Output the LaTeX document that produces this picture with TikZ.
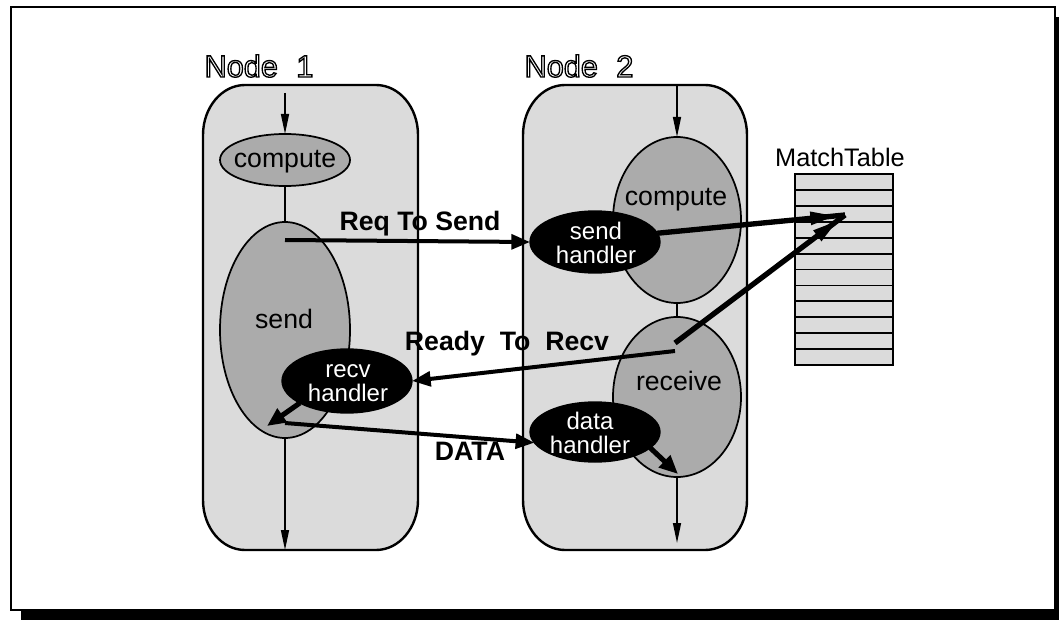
\documentclass[tikz,border=0pt]{standalone}
\usepackage{fontspec}
\setmainfont{Liberation Sans}
\usetikzlibrary{arrows.meta,shapes.geometric,decorations.markings}
\definecolor{boxgray}{gray}{0.86}
\definecolor{phasegray}{gray}{0.67}
% hollow (stroked only) lettering for the node titles
\newcommand{\hollowtext}[1]{\special{pdf:literal direct 1 Tr 1.0 w 0 0 0 RG}#1\special{pdf:literal direct 0 Tr}}
\begin{document}
\begin{tikzpicture}[x=0.75pt,y=-0.75pt,
  every node/.style={inner sep=0pt, outer sep=0pt},
  frame/.style={draw=black, line width=1.7pt, fill=white},
  procbox/.style={draw=black, line width=1.8pt, fill=boxgray},
  phase/.style={ellipse, draw=black, line width=1.3pt, fill=phasegray},
  handler/.style={ellipse, fill=black, draw=black, line width=1pt},
  flow/.style={line width=1.1pt, -{Triangle[length=15pt,width=6pt]}},
  message/.style={line width=3pt, -{Triangle[length=14pt,width=11pt]}},
  upcall/.style={line width=3.8pt, -{Triangle[length=14pt,width=12pt]}},
  lookup/.style={line width=4pt, postaction=decorate,
    decoration={markings, mark=at position -6pt with {\arrow{Triangle[length=20pt,width=9pt]}}}},
  phasetext/.style={anchor=base, font=\fontsize{20}{24}\selectfont},
  handlertext/.style={align=center, text=white, font=\fontsize{18}{18}\selectfont},
  msgtext/.style={anchor=base, font=\fontsize{20}{24}\selectfont\bfseries},
  grouptext/.style={anchor=base, font=\fontsize{23}{27}\selectfont},
  tabletext/.style={anchor=base, font=\fontsize{19}{23}\selectfont},
  tablebox/.style={rectangle, draw=black, line width=1.5pt, fill=boxgray,
    minimum width=73.5pt, minimum height=143.25pt},
  rowline/.style={line width=1.4pt}
]
\useasboundingbox (0,0) rectangle (1059,620);
\clip (0,0) rectangle (1059,620);

% page frame with its drop shadow
\fill[black] (21,17) rectangle (1070,630);
\draw[frame] (11,7) rectangle (1055,610);

% the two processing nodes
\draw[procbox] (245,85) -- (376,85)
  arc[start angle=-90,end angle=0,x radius=42,y radius=50] -- (418,500)
  arc[start angle=0,end angle=90,x radius=42,y radius=50] -- (245,550)
  arc[start angle=90,end angle=180,x radius=42,y radius=50] -- (203,135)
  arc[start angle=180,end angle=270,x radius=42,y radius=50] -- cycle;
\draw[procbox] (565,85) -- (705,85)
  arc[start angle=-90,end angle=0,x radius=42,y radius=50] -- (747,500)
  arc[start angle=0,end angle=90,x radius=42,y radius=50] -- (565,550)
  arc[start angle=90,end angle=180,x radius=42,y radius=50] -- (523,135)
  arc[start angle=180,end angle=270,x radius=42,y radius=50] -- cycle;

\node[grouptext] (n1lbl) at (259,77) {\hollowtext{Node\hspace{0.6em}1}};
\node[grouptext] (n2lbl) at (579,77) {\hollowtext{Node\hspace{0.6em}2}};

% computation phases
\node[phase, minimum width=97.5pt, minimum height=39pt] (c1) at (285,160) {};
\node[phase, minimum width=97.5pt, minimum height=162pt] (s1) at (285,330) {};
\node[phase, minimum width=96pt, minimum height=124.5pt] (c2) at (677,220) {};
\node[phase, minimum width=96pt, minimum height=120pt] (r2) at (677,397) {};

\node[phasetext] (c1t) at (285,168) {compute};
\node[phasetext] (s1t) at (284,328) {send};
\node[phasetext] (c2t) at (676,206) {compute};
\node[phasetext] (r2t) at (679,390) {receive};

% control flow through each node
\coordinate (n1in) at (285,93);
\coordinate (n1out) at (285,550);
\coordinate (n2in) at (677,86);
\coordinate (n2out) at (677,543);
\draw[flow] (n1in) -- (c1.north);
\draw[line width=1.1pt] (c1.south) -- (s1.north);
\draw[flow] (s1.south) -- (n1out);
\draw[flow] (n2in) -- (c2.north);
\draw[line width=1.1pt] (c2.south) -- (r2.north);
\draw[flow] (r2.south) -- (n2out);

% message handlers
\node[handler, minimum width=97.5pt, minimum height=48pt] (rh) at (347,381) {};
\node[handler, minimum width=97.5pt, minimum height=46.5pt] (sh) at (595,242) {};
\node[handler, minimum width=97.5pt, minimum height=45pt] (dh) at (595,432) {};

% match table
\node[tablebox] (mtab) at (844,269.5) {};
\foreach \i in {1,...,11}
  \draw[rowline] (795,{174+\i*15.92}) -- (893,{174+\i*15.92});
\node[tabletext] (mtabt) at (840,167) {MatchTable};

% messages between the nodes
\coordinate (rqs) at (285,240);
\coordinate (dts) at (285,423);
\coordinate (rdy) at (675,351);
\coordinate (rcv) at (675,343);
\coordinate (mt) at (845,215);
\coordinate (rhx) at (267,426);
\coordinate (dhx) at (678,474);

\draw[message] (rqs) -- (sh.west);
\draw[message] (dts) -- (dh.190);
\draw[message] (rdy) -- (rh.east);
\draw[lookup] (sh.8) -- (mt);
\draw[lookup] (rcv) -- (mt);
\draw[upcall] (rh.205) -- (rhx);
\draw[upcall] (dh.-16) -- (dhx);

\node[handlertext] (rht) at (348,383) {recv\\handler};
\node[handlertext] (sht) at (596,243) {send\\handler};
\node[handlertext] (dht) at (590,433) {data\\handler};

\node[msgtext] (reqt) at (420,230) {Req To Send};
\node[msgtext] (rdyt) at (507,350) {Ready\ \ To\ \ Recv};
\node[msgtext] (datat) at (470,460) {DATA};
\end{tikzpicture}
\end{document}
